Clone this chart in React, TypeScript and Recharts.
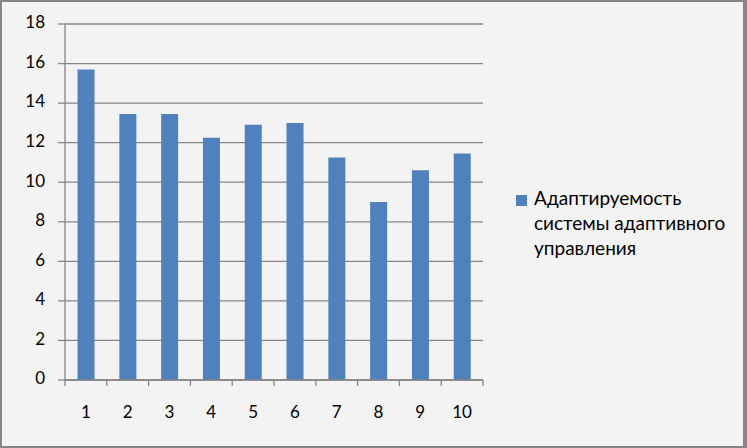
import React from "react";
import { BarChart, Bar, XAxis, YAxis, CartesianGrid } from "recharts";

const categories: string[] = ["1", "2", "3", "4", "5", "6", "7", "8", "9", "10"];
const values: number[] = [15.7, 13.45, 13.45, 12.25, 12.9, 13.0, 11.25, 9.0, 10.6, 11.45];
const yTicks: number[] = [0, 2, 4, 6, 8, 10, 12, 14, 16, 18];
const seriesName = "Адаптируемость системы адаптивного управления";
const legendLines: string[] = ["Адаптируемость", "системы адаптивного", "управления"];

const data = categories.map((c, i) => ({ cat: c, value: values[i] }));

const FONT = "Lato, 'Open Sans', sans-serif";
const CHART_H = 448;
const X_AXIS_H = 68;
const PLOT_LEFT = 65;
const PLOT_RIGHT = 483;
const PLOT_BOTTOM = CHART_H - X_AXIS_H;
const BAND = (PLOT_RIGHT - PLOT_LEFT) / categories.length;
const GRID = "#868686";

const XTick = (props: any) => {
  const { x, payload, index } = props;
  const last = index === categories.length - 1;
  return (
    <g>
      <line x1={x - BAND / 2} x2={x - BAND / 2} y1={PLOT_BOTTOM} y2={PLOT_BOTTOM + 6} stroke={GRID} strokeWidth={1.3} />
      {last && (
        <line x1={x + BAND / 2} x2={x + BAND / 2} y1={PLOT_BOTTOM} y2={PLOT_BOTTOM + 6} stroke={GRID} strokeWidth={1.3} />
      )}
      <text x={x} y={PLOT_BOTTOM + 34} textAnchor="middle" dominantBaseline="middle" fontFamily={FONT} fontSize={17} fill="#000">
        {payload.value}
      </text>
    </g>
  );
};

const YTick = (props: any) => {
  const { x, y, payload } = props;
  return (
    <text x={x - 11} y={y} textAnchor="end" dominantBaseline="middle" fontFamily={FONT} fontSize={17} fill="#000">
      {payload.value}
    </text>
  );
};

export default function App() {
  return (
    <div
      style={{
        position: "absolute",
        left: 0,
        top: 0,
        width: 747,
        height: 448,
        boxSizing: "border-box",
        background: "#f3f3f3",
        borderTop: "2px solid #868686",
        borderLeft: "2px solid #868686",
        borderRight: "4px solid #868686",
        borderBottom: "2px solid #868686",
      }}
    >
      <div style={{ position: "absolute", left: -2, top: -2 }}>
        <BarChart
          width={747}
          height={CHART_H}
          data={data}
          margin={{ top: 24, right: 747 - PLOT_RIGHT, bottom: 0, left: 0 }}
          barCategoryGap="30%"
        >
          <CartesianGrid vertical={false} stroke={GRID} strokeWidth={1.3} />
          <XAxis
            dataKey="cat"
            scale="band"
            height={X_AXIS_H}
            interval={0}
            axisLine={{ stroke: GRID, strokeWidth: 1.3 }}
            tickLine={false}
            tick={<XTick />}
          />
          <YAxis
            width={PLOT_LEFT}
            domain={[0, 18]}
            ticks={yTicks}
            interval={0}
            axisLine={{ stroke: GRID, strokeWidth: 1.3 }}
            tickLine={{ stroke: GRID, strokeWidth: 1.3 }}
            tickSize={7}
            tick={<YTick />}
          />
          <Bar dataKey="value" name={seriesName} fill="#4f81bd" isAnimationActive={false} />
        </BarChart>
        <div
          style={{
            position: "absolute",
            left: 516,
            top: 185,
            fontFamily: FONT,
            fontSize: 19,
            lineHeight: "25px",
            color: "#000",
          }}
        >
          <div style={{ position: "absolute", left: 0, top: 10, width: 11, height: 11, background: "#4f81bd" }} />
          <div style={{ position: "absolute", left: 18, top: 0, whiteSpace: "nowrap" }}>
            {legendLines.map((l, i) => (
              <div key={i}>{l}</div>
            ))}
          </div>
        </div>
      </div>
    </div>
  );
}
